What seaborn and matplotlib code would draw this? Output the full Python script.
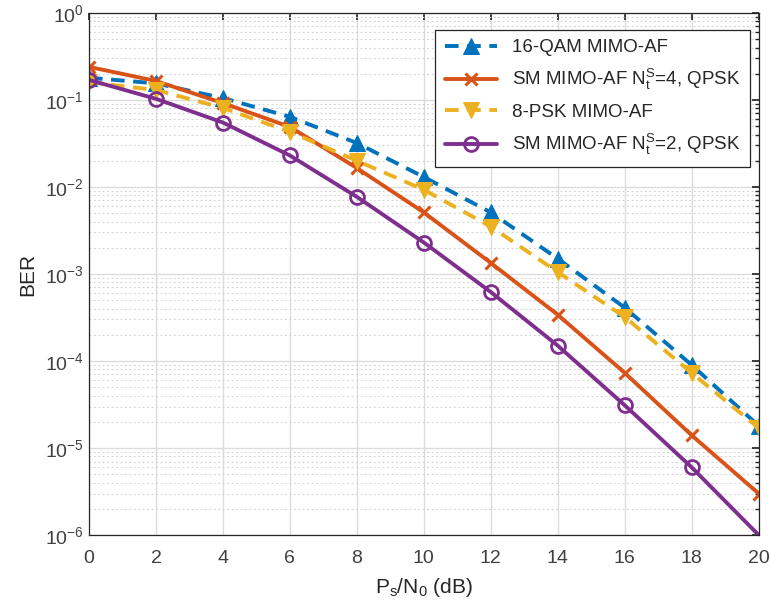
import numpy as np
import pandas as pd
import matplotlib
matplotlib.use("Agg")
import matplotlib.pyplot as plt
import seaborn as sns
from matplotlib.ticker import LogLocator, NullFormatter

snr = [0, 2, 4, 6, 8, 10, 12, 14, 16, 18, 20]
ber_16qam = [0.18, 0.155, 0.105, 0.064, 0.032, 0.013, 0.0051, 0.0015, 4.1e-4, 9.0e-5, 1.8e-5]
ber_sm4 = [0.24, 0.165, 0.092, 0.049, 0.0165, 0.0051, 0.00134, 3.4e-4, 7.3e-5, 1.4e-5, 3.0e-6]
ber_8psk = [0.16, 0.13, 0.081, 0.043, 0.020, 0.0093, 0.0035, 0.00105, 3.2e-4, 7.3e-5, 1.7e-5]
ber_sm2 = [0.17, 0.103, 0.055, 0.023, 0.0077, 0.0023, 6.2e-4, 1.5e-4, 3.1e-5, 6.0e-6, 1.0e-6]

labels = ["16-QAM MIMO-AF",
          r"SM MIMO-AF N$_t^S$=4, QPSK",
          "8-PSK MIMO-AF",
          r"SM MIMO-AF N$_t^S$=2, QPSK"]

sns.set_theme(style="white")
plt.rcParams['font.family'] = ['Liberation Sans', 'DejaVu Sans']
plt.rcParams['mathtext.fontset'] = 'custom'
plt.rcParams['mathtext.rm'] = 'Liberation Sans'
plt.rcParams['mathtext.it'] = 'Liberation Sans'
plt.rcParams['mathtext.bf'] = 'Liberation Sans:bold'

fig = plt.figure(figsize=(7.71, 6.15), dpi=100)
ax = fig.add_axes([0.1154, 0.130, 0.8686, 0.849])

series = [
    (ber_16qam, labels[0], "#0072BD", (3.5, 2.2), "^", 12, 'fill'),
    (ber_sm4, labels[1], "#D95319", "", "x", 8, 'x'),
    (ber_8psk, labels[2], "#EDB120", (3.5, 2.2), "v", 12, 'fill'),
    (ber_sm2, labels[3], "#7E2F8E", "", "o", 10, 'open'),
]

for vals, lab, col, dash, mk, ms, kind in series:
    df = pd.DataFrame({"snr": snr, "ber": vals})
    kw = dict(marker=mk, markersize=ms, color=col, linewidth=2.8, label=lab)
    if kind == 'open':
        kw.update(markerfacecolor='none', markeredgecolor=col, markeredgewidth=2,
                  markevery=list(range(len(snr) - 1)))
    elif kind == 'x':
        kw.update(markeredgewidth=2.2, markeredgecolor=col)
    else:
        kw.update(markerfacecolor=col, markeredgecolor=col)
    sns.lineplot(data=df, x="snr", y="ber", ax=ax, **kw)
    if dash:
        ax.lines[-1].set_dashes(dash)

ax.set_yscale('log')
ax.set_xlim(0, 20)
ax.set_ylim(1e-6, 1)
ax.set_xticks(snr)
ax.yaxis.set_major_locator(LogLocator(base=10, numticks=10))
ax.yaxis.set_minor_locator(LogLocator(base=10, subs=np.arange(2, 10), numticks=100))
ax.yaxis.set_minor_formatter(NullFormatter())

ax.grid(True, which='major', color='#dcdcdc', linewidth=1.0, linestyle='-')
ax.grid(True, which='minor', axis='y', color='#d0d0d0', linewidth=0.8, linestyle=(0, (1.5, 2.5)))
ax.set_axisbelow(True)

for s in ax.spines.values():
    s.set_visible(True)
    s.set_color('#262626')
    s.set_linewidth(0.9)

ax.tick_params(axis='both', which='both', direction='in', top=True, right=True,
               labelsize=14, labelcolor='#404040', color='#262626')
ax.tick_params(axis='both', which='major', length=5)
ax.tick_params(axis='x', which='major', pad=11)
ax.tick_params(axis='y', which='minor', length=3)
ax.tick_params(axis='x', which='minor', bottom=False, top=False)

ax.set_xlabel(r"P$_s$/N$_0$ (dB)", fontsize=15, color='#262626', labelpad=6)
ax.set_ylabel("BER", fontsize=15, color='#262626', labelpad=6)

leg = ax.legend(loc='upper right', bbox_to_anchor=(0.987, 0.968), borderaxespad=0,
                fontsize=13.5, frameon=True, fancybox=False, edgecolor='#262626',
                framealpha=1, handlelength=2.8, borderpad=0.5, labelspacing=0.6)
leg.get_frame().set_linewidth(0.9)

fig.savefig("out.png", dpi=100)
